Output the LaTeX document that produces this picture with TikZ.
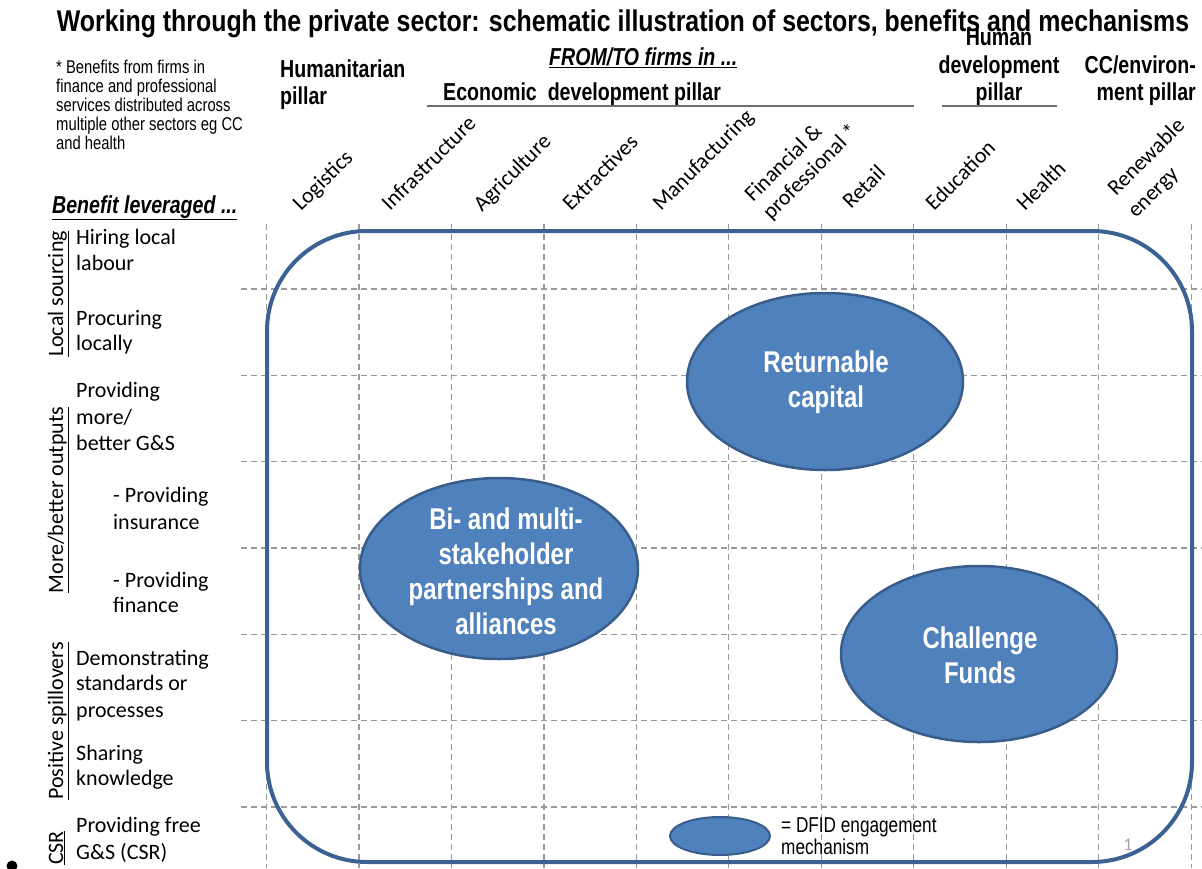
\documentclass[tikz,border=0pt]{standalone}
\usepackage{fontspec}
\setmainfont{Carlito}
\newfontfamily\condfont{Liberation Sans}[FakeStretch=0.8]
\newfontfamily\titlefont{Liberation Sans}[FakeStretch=0.83]
\usetikzlibrary{shapes.geometric}
\definecolor{fillblue}{HTML}{4F81BD}
\definecolor{edgeblue}{HTML}{385D8A}
\definecolor{framecol}{HTML}{3C6293}
\definecolor{gridcol}{HTML}{9A9A9A}
\definecolor{rulecol}{HTML}{6E6E6E}
\definecolor{pagenum}{HTML}{A6A6A6}
\begin{document}
\begin{tikzpicture}[x=1pt,y=-1pt,
  gridline/.style={gridcol, line width=1.2pt, dash pattern=on 6pt off 4pt},
  frame/.style={framecol, line width=4pt, rounded corners=100pt},
  mech/.style={ellipse, fill=fillblue, draw=edgeblue, line width=2.5pt, inner sep=0pt},
  mechtext/.style={text=white, inner sep=0pt, align=center,
    font=\condfont\bfseries\fontsize{30}{35}\selectfont},
  collabel/.style={rotate=45, anchor=base west, inner sep=0pt,
    font=\fontsize{22}{26}\selectfont},
  rowlabel/.style={anchor=base west, inner sep=0pt,
    font=\fontsize{22}{26}\selectfont},
  grouplabel/.style={rotate=90, anchor=base, inner sep=0pt,
    font=\fontsize{22}{26}\selectfont},
  heading/.style={inner sep=0pt, font=\condfont\bfseries\fontsize{24.5}{27}\selectfont},
  note/.style={anchor=base west, inner sep=0pt, font=\condfont\fontsize{18.5}{19}\selectfont},
  keytext/.style={anchor=base west, inner sep=0pt, font=\condfont\fontsize{21.5}{22}\selectfont},
  headrule/.style={rulecol, line width=1.2pt},
]
\useasboundingbox (0,0) rectangle (1202,868);

% dashed grid: sectors (columns) by benefits (rows)
\foreach \i in {0,...,10}
  \draw[gridline] ({266.5+92.47*\i},224) -- ({266.5+92.47*\i},868);
\foreach \j in {0,...,6}
  \draw[gridline] (241,{289+86.33*\j}) -- (1202,{289+86.33*\j});

% frame round the whole field
\draw[frame] (267,231) rectangle (1192,862);

% title
\node[inner sep=0pt, anchor=base, font=\titlefont\bfseries\fontsize{30}{32}\selectfont]
  (title) at (623,31) {Working through the private sector: schematic illustration of sectors, benefits and mechanisms};

% footnote
\node[note] (n1) at (56,73)  {* Benefits from firms in};
\node[note] (n2) at (56,92)  {finance and professional};
\node[note] (n3) at (56,111) {services distributed across};
\node[note] (n4) at (56,130) {multiple other sectors eg CC};
\node[note] (n5) at (56,149) {and health};

% pillar headings
\node[heading, anchor=base west] (fromto) at (549,65) {\itshape\underline{FROM/TO firms in ...}};
\node[heading, anchor=base west] (hum1) at (280,77) {Humanitarian};
\node[heading, anchor=base west] (hum2) at (280,104) {pillar};
\node[heading, anchor=base west] (econ) at (443,100) {Economic\ \ development pillar};
\draw[headrule] (427,106) -- (914,106);
\node[heading, anchor=base] (hd1) at (999,45) {Human};
\node[heading, anchor=base] (hd2) at (999,73) {development};
\node[heading, anchor=base] (hd3) at (999,100) {pillar};
\draw[headrule] (942,106) -- (1057,106);
\node[heading, anchor=base east] (cc1) at (1196,73) {CC/environ-};
\node[heading, anchor=base east] (cc2) at (1196,100) {ment pillar};
\node[heading, anchor=base west] (benefit) at (52,213) {\itshape\underline{Benefit leveraged ...}};

% sector labels
\node[collabel] (c1) at (301,212) {Logistics};
\node[collabel] (c2) at (390,212) {Infrastructure};
\node[collabel] (c3) at (482,213) {Agriculture};
\node[collabel] (c4) at (571,212) {Extractives};
\node[collabel] (c5) at (661,212) {Manufacturing};
\node[collabel] (c6a) at (753,203) {Financial \&};
\node[collabel] (c6b) at (771,221) {professional *};
\node[collabel] (c7) at (851,210) {Retail};
\node[collabel] (c8) at (934,212) {Education};
\node[collabel] (c9) at (1025,212) {Health};
\node[collabel] (c10a) at (1116,197) {Renewable};
\node[collabel] (c10b) at (1136,219) {energy};

% benefit groups
\node[grouplabel] (g1) at (63,294) {\underline{Local sourcing}};
\node[grouplabel] (g2) at (63,500) {\underline{More/better outputs}};
\node[grouplabel] (g3) at (63,721) {\underline{Positive spillovers}};
\node[grouplabel] (g4) at (63,848) {\underline{CSR}};

% benefit rows
\node[rowlabel] (r1a) at (76,244) {Hiring local};
\node[rowlabel] (r1b) at (76,270) {labour};
\node[rowlabel] (r2a) at (76,325) {Procuring};
\node[rowlabel] (r2b) at (76,350) {locally};
\node[rowlabel] (r3a) at (76,397) {Providing};
\node[rowlabel] (r3b) at (76,424) {more/};
\node[rowlabel] (r3c) at (76,450) {better G\&S};
\node[rowlabel] (r4a) at (113,502) {- Providing};
\node[rowlabel] (r4b) at (113,529) {insurance};
\node[rowlabel] (r5a) at (113,587) {- Providing};
\node[rowlabel] (r5b) at (113,612) {finance};
\node[rowlabel] (r6a) at (76,665) {Demonstrating};
\node[rowlabel] (r6b) at (76,690) {standards or};
\node[rowlabel] (r6c) at (76,717) {processes};
\node[rowlabel] (r7a) at (76,760) {Sharing};
\node[rowlabel] (r7b) at (76,785) {knowledge};
\node[rowlabel] (r8a) at (76,832) {Providing free};
\node[rowlabel] (r8b) at (76,859) {G\&S (CSR)};

% engagement mechanisms
\node[mech, minimum width=276pt, minimum height=177pt] (capital) at (825,381.5) {};
\node[mechtext] (capitalt) at (826,382) {Returnable\\capital};
\node[mech, minimum width=278pt, minimum height=181pt] (partner) at (499,568.5) {};
\node[mechtext] (partnert) at (506,571) {Bi- and multi-\\stakeholder\\partnerships and\\alliances};
\node[mech, minimum width=276pt, minimum height=176pt] (challenge) at (979,654) {};
\node[mechtext] (challenget) at (980,655) {Challenge\\Funds};

% key
\node[mech, line width=2pt, minimum width=100pt, minimum height=38pt] (key) at (720,836) {};
\node[keytext] (keyt1) at (781,832) {= DFID engagement};
\node[keytext] (keyt2) at (781,854) {mechanism};

% page number
\node[anchor=base, inner sep=0pt, text=pagenum, font=\fontsize{18}{20}\selectfont] (page) at (1128,850) {1};

% stray mark at the lower left
\fill[black] (12,866) circle (5.5pt);
\end{tikzpicture}
\end{document}
